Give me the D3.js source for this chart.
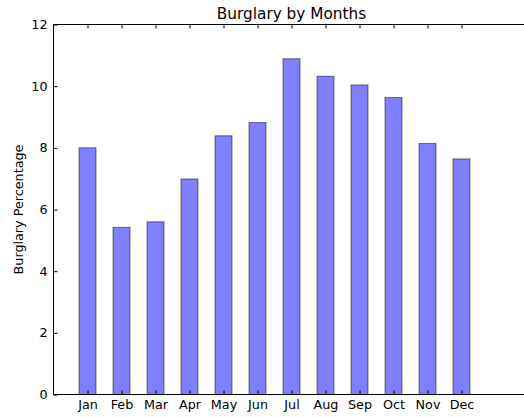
<!DOCTYPE html>
<html>
<head>
<meta charset="utf-8">
<script src="https://cdn.jsdelivr.net/npm/d3@7"></script>
<style>
  body { margin: 0; background: #fff; }
  svg text { font-family: "DejaVu Sans", sans-serif; fill: #000; }
</style>
</head>
<body>
<div id="chart"></div>
<script>
// data
var months = ["Jan", "Feb", "Mar", "Apr", "May", "Jun", "Jul", "Aug", "Sep", "Oct", "Nov", "Dec"];
var burglaryPct = [8.0, 5.42, 5.6, 6.99, 8.39, 8.82, 10.89, 10.32, 10.04, 9.63, 8.14, 7.64];
var yTicks = [0, 2, 4, 6, 8, 10, 12];

// set the dimensions of the plot area (right edge runs past the window, as in the original)
var W = 524, H = 417;
var box = {left: 53.5, top: 24.5, bottom: 394.5, right: 529.5};

var svg = d3.select("#chart")
  .append("svg")
  .attr("width", W)
  .attr("height", H);

var x = d3.scaleLinear().domain([-1, 13]).range([box.left, box.right]);
var y = d3.scaleLinear().domain([0, 12]).range([box.bottom, box.top]);
var step = x(1) - x(0);

// Bars
svg.selectAll("rect.bar")
  .data(burglaryPct)
  .enter()
  .append("rect")
  .attr("class", "bar")
  .attr("x", (d, i) => x(i) - step * 0.25)
  .attr("y", d => y(d))
  .attr("width", step * 0.5)
  .attr("height", d => y(0) - y(d))
  .attr("fill", "rgba(0,0,255,0.5)")
  .attr("stroke", "rgba(0,0,0,0.5)")
  .attr("stroke-width", 1);

// axes (ticks pointing inward, matplotlib classic look)
var xIdx = d3.range(months.length);
svg.append("g")
  .attr("transform", "translate(0," + box.bottom + ")")
  .call(d3.axisBottom(x).tickValues(xIdx).tickFormat(i => months[i]).tickSize(-4).tickPadding(5))
  .call(g => g.select(".domain").remove())
  .selectAll("text").style("font-size", "12.75px");

svg.append("g")
  .attr("transform", "translate(0," + box.top + ")")
  .call(d3.axisTop(x).tickValues(xIdx).tickFormat("").tickSize(-4))
  .call(g => g.select(".domain").remove());

svg.append("g")
  .attr("transform", "translate(" + box.left + ",0)")
  .call(d3.axisLeft(y).tickValues(yTicks).tickFormat(d3.format("d")).tickSize(-4).tickPadding(6))
  .call(g => g.select(".domain").remove())
  .selectAll("text").style("font-size", "12.75px");

svg.append("g")
  .attr("transform", "translate(" + box.right + ",0)")
  .call(d3.axisRight(y).tickValues(yTicks).tickFormat("").tickSize(-4))
  .call(g => g.select(".domain").remove());

// frame
svg.append("rect")
  .attr("x", box.left).attr("y", box.top)
  .attr("width", box.right - box.left).attr("height", box.bottom - box.top)
  .attr("fill", "none")
  .attr("stroke", "#000")
  .attr("stroke-width", 1);

// title and label
svg.append("text")
  .attr("x", (box.left + box.right) / 2)
  .attr("y", 18.5)
  .attr("text-anchor", "middle")
  .style("font-size", "15.3px")
  .text("Burglary by Months");

svg.append("text")
  .attr("transform", "translate(23," + (box.top + box.bottom) / 2 + ") rotate(-90)")
  .attr("text-anchor", "middle")
  .style("font-size", "12.75px")
  .text("Burglary Percentage");
</script>
</body>
</html>
